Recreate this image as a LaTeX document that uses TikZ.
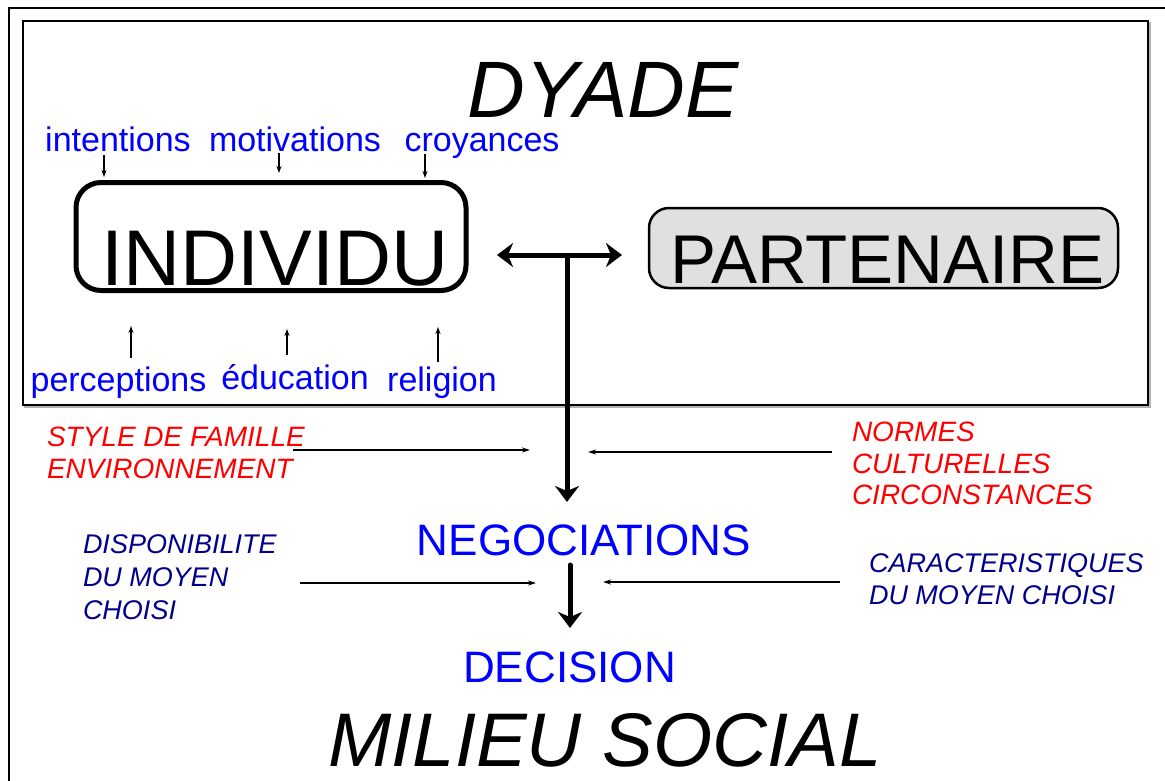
\documentclass[tikz,border=0pt]{standalone}
\usepackage{fontspec}
\setmainfont{Liberation Sans}
\usetikzlibrary{arrows.meta}
\definecolor{dblue}{RGB}{0,0,255}
\definecolor{dred}{RGB}{255,0,0}
\definecolor{dnavy}{RGB}{0,0,140}
\definecolor{boxgray}{RGB}{224,224,224}
\newcommand\myfs[1]{\fontsize{#1}{#1}\selectfont}
\begin{document}
\begin{tikzpicture}[x=1pt,y=-1pt,
  every node/.style={inner sep=0pt, outer sep=0pt},
  frameline/.style={line width=2pt, draw=black},
  bluelabel/.style={text=dblue, anchor=base, font=\myfs{34}},
  redblock/.style={text=dred, anchor=north west, align=left, font=\myfs{28}\itshape\setlength{\baselineskip}{31.5pt}},
  navyblock/.style={text=dnavy, anchor=north west, align=left, font=\myfs{27}\itshape},
  smallarrow/.style={line width=1.2pt, -{Stealth[length=7pt,width=5pt]}},
  thinarrow/.style={line width=1.2pt, -{Stealth[length=8pt,width=5pt]}},
  bigdouble/.style={line width=5pt, {Stealth[length=16pt,width=24pt,inset=5pt]}-{Stealth[length=16pt,width=24pt,inset=5pt]}}
]
\useasboundingbox (0,0) rectangle (1165,780);
\fill[white] (0,0) rectangle (1165,780);

% outer frame (partly outside the picture)
\draw[frameline] (9,790) -- (9,8) -- (1175,8);
% inner frame (DYADE) with light shadow
\draw[line width=2pt, draw=gray!60] (25,23) rectangle (1150,407);
\draw[frameline, fill=white] (23,21) rectangle (1148,405);

% titles
\node[anchor=base, font=\myfs{80}\itshape] (dyade) at (603,117) {DYADE};
\node[anchor=base, font=\myfs{76}\itshape] (milieu) at (605,766) {MILIEU SOCIAL};

% top labels
\node[bluelabel] (intentions) at (118,151) {intentions};
\node[bluelabel] (motivations) at (295,151) {motivations};
\node[bluelabel] (croyances) at (482,151) {croyances};

% main boxes
\node[draw, line width=5pt, rounded corners=25pt, minimum width=390pt, minimum height=108pt,
      text height=97pt, text depth=0pt, font=\myfs{79}] (individu) at (271,236.5) {\hspace*{8pt}INDIVIDU};
\node[draw, line width=2.5pt, fill=boxgray, rounded corners=20pt, minimum width=469pt, minimum height=80pt,
      text height=70pt, text depth=0pt, font=\myfs{69}] (partenaire) at (883.5,248) {\hspace*{8pt}PARTENAIRE};

% bottom labels (descenders clipped)
\begin{scope}
\clip (0,0) rectangle (1165,397);
\node[bluelabel] (perceptions) at (118.5,391) {perceptions};
\node[bluelabel] (education) at (295,389) {éducation};
\node[bluelabel] (religion) at (442,391) {religion};
\end{scope}

% influences
\node[redblock] (style) at (47,427) {STYLE DE FAMILLE\\ENVIRONNEMENT};
\node[redblock] (normes) at (852,422) {NORMES\\CULTURELLES\\CIRCONSTANCES};
\node[navyblock, font=\myfs{27}\itshape\setlength{\baselineskip}{33pt}] (dispo) at (83,535) {DISPONIBILITE\\DU MOYEN\\CHOISI};
\node[navyblock, font=\myfs{27}\itshape\setlength{\baselineskip}{32pt}] (carac) at (869,554) {CARACTERISTIQUES\\DU MOYEN CHOISI};

% process
\node[anchor=base, text=dblue, font=\myfs{44}] (nego) at (584,555) {NEGOCIATIONS};
\node[anchor=base, text=dblue, font=\myfs{44}] (decision) at (569.5,682) {DECISION};

% small arrows into INDIVIDU
\coordinate (i1) at (104,155); \coordinate (i1e) at (104,177);
\coordinate (m1) at (279,153); \coordinate (m1e) at (279,173);
\coordinate (c1) at (425,154); \coordinate (c1e) at (425,178);
\draw[smallarrow] (i1) -- (i1e);
\draw[smallarrow] (m1) -- (m1e);
\draw[smallarrow] (c1) -- (c1e);

% small arrows from the bottom labels
\coordinate (p1) at (131,358); \coordinate (p1e) at (131,326);
\coordinate (e1) at (287,355); \coordinate (e1e) at (287,329);
\coordinate (r1) at (438,362); \coordinate (r1e) at (438,327);
\draw[smallarrow] (p1) -- (p1e);
\draw[smallarrow] (e1) -- (e1e);
\draw[smallarrow] (r1) -- (r1e);

% INDIVIDU <-> PARTENAIRE and down to NEGOCIATIONS
\coordinate (dl) at (497,255);
\coordinate (dr) at (622,255);
\draw[bigdouble] (dl) -- (dr);
\coordinate (junction) at (567,255);
\coordinate (negotop) at (567,502);
\draw[line width=5pt, -{Stealth[length=16pt,width=24pt,inset=5pt]}] (junction) -- (negotop);
\coordinate (negobot) at (570,565);
\coordinate (dectop) at (570,628);
\draw[line width=5pt, line cap=round, -{Stealth[length=16pt,width=24pt,inset=5pt]}] (negobot) -- (dectop);

% side influences
\coordinate (s1) at (293,450); \coordinate (s1e) at (530,450);
\coordinate (n1) at (832,452); \coordinate (n1e) at (588,452);
\coordinate (d1) at (300,583); \coordinate (d1e) at (536,583);
\coordinate (k1) at (840,582); \coordinate (k1e) at (603,582);
\draw[thinarrow] (s1) -- (s1e);
\draw[thinarrow] (n1) -- (n1e);
\draw[thinarrow] (d1) -- (d1e);
\draw[thinarrow] (k1) -- (k1e);
\end{tikzpicture}
\end{document}
